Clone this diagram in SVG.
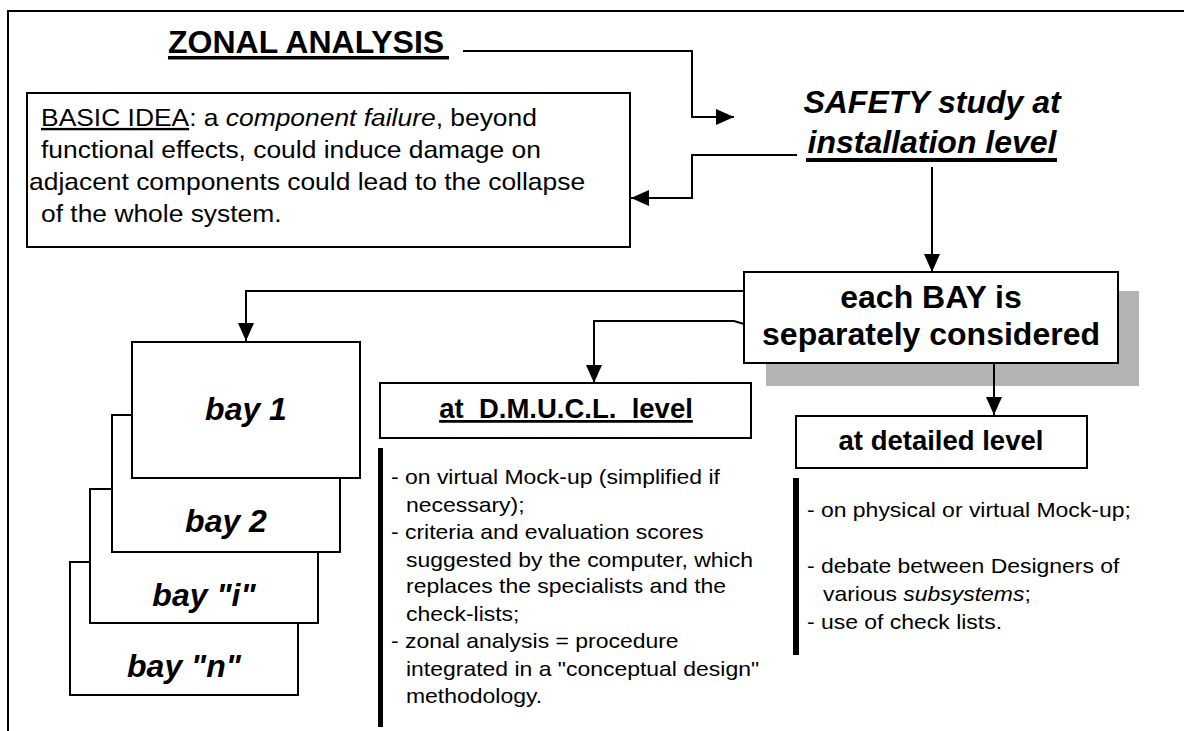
<svg xmlns="http://www.w3.org/2000/svg" width="1184" height="731" viewBox="0 0 1184 731">
  <style>
    text { font-family: "Liberation Sans", Arial, sans-serif; fill: #000; }
    .box { fill: #fff; stroke: #000; stroke-width: 2; }
    .wire { fill: none; stroke: #000; stroke-width: 2; }
    .head { font-size: 32px; font-weight: bold; }
    .bay { font-size: 32px; font-weight: bold; font-style: italic; text-anchor: middle; }
    .lvl { font-size: 27.5px; font-weight: bold; text-anchor: middle; }
    .body { font-size: 24px; }
    .note { font-size: 20.5px; }
    .bar, .rule { fill: #000; }
  </style>
  <defs>
    <marker id="arrow" markerUnits="userSpaceOnUse" markerWidth="18" markerHeight="16" refX="18" refY="8" orient="auto">
      <path d="M0,0 L18,8 L0,16 z" fill="#000"/>
    </marker>
  </defs>

  <!-- page frame -->
  <path d="M8,731 V11 H1184" fill="none" stroke="#000" stroke-width="2"/>

  <!-- title -->
  <g id="title">
    <text class="head" x="168" y="53">ZONAL ANALYSIS</text>
    <rect class="rule" x="168" y="56" width="281" height="3.5"/>
  </g>

  <!-- safety study -->
  <g id="safety">
    <text class="head" x="932" y="113" text-anchor="middle" font-style="italic">SAFETY study at</text>
    <text class="head" x="932" y="153" text-anchor="middle" font-style="italic">installation level</text>
    <rect class="rule" x="806" y="158" width="251" height="4"/>
  </g>

  <!-- basic idea -->
  <g id="basic-idea">
    <rect class="box" x="27" y="93" width="603" height="154"/>
    <g transform="scale(1.1,1)">
      <text class="body" x="37.3" y="126"><tspan text-decoration="underline">BASIC IDEA</tspan>: a <tspan font-style="italic">component failure</tspan>, beyond</text>
      <text class="body" x="37.3" y="158">functional effects, could induce damage on</text>
      <text class="body" x="26.4" y="190">adjacent components could lead to the collapse</text>
      <text class="body" x="37.3" y="222">of the whole system.</text>
    </g>
  </g>

  <!-- each bay -->
  <g id="each-bay">
    <rect x="766" y="291" width="373" height="95" fill="#b3b3b3"/>
    <rect class="box" x="744" y="272" width="374" height="91"/>
    <text class="head" x="931" y="308" text-anchor="middle">each BAY is</text>
    <text class="head" x="931" y="345" text-anchor="middle">separately considered</text>
  </g>

  <!-- bay stack, back to front -->
  <g id="bay-n">
    <rect class="box" x="70" y="562" width="228" height="133"/>
    <text class="bay" x="184" y="677">bay "n"</text>
  </g>
  <g id="bay-i">
    <rect class="box" x="90" y="489" width="228" height="134"/>
    <text class="bay" x="204" y="606">bay "i"</text>
  </g>
  <g id="bay-2">
    <rect class="box" x="112" y="415" width="228" height="137"/>
    <text class="bay" x="226" y="532">bay 2</text>
  </g>
  <g id="bay-1">
    <rect class="box" x="132" y="342" width="228" height="136"/>
    <text class="bay" x="246" y="420">bay 1</text>
  </g>

  <!-- D.M.U.C.L. level -->
  <g id="dmucl">
    <rect class="box" x="380" y="383" width="371" height="55"/>
    <text class="lvl" x="566" y="418" text-decoration="underline" xml:space="preserve">at  D.M.U.C.L.  level</text>
    <rect class="bar" x="378" y="448" width="5" height="279"/>
    <g transform="scale(1.12,1)">
      <text class="note" x="349.1" y="484">- on virtual Mock-up (simplified if</text>
      <text class="note" x="362.5" y="512">necessary);</text>
      <text class="note" x="349.1" y="539">- criteria and evaluation scores</text>
      <text class="note" x="362.5" y="567">suggested by the computer, which</text>
      <text class="note" x="362.5" y="593">replaces the specialists and the</text>
      <text class="note" x="362.5" y="621">check-lists;</text>
      <text class="note" x="349.1" y="648">- zonal analysis = procedure</text>
      <text class="note" x="362.5" y="676">integrated in a "conceptual design"</text>
      <text class="note" x="362.5" y="703">methodology.</text>
    </g>
  </g>

  <!-- detailed level -->
  <g id="detailed">
    <rect class="box" x="796" y="416" width="291" height="52"/>
    <text class="lvl" x="941" y="450">at detailed level</text>
    <rect class="bar" x="793" y="478" width="6" height="177"/>
    <g transform="scale(1.12,1)">
      <text class="note" x="720.5" y="517">- on physical or virtual Mock-up;</text>
      <text class="note" x="720.5" y="573">- debate between Designers of</text>
      <text class="note" x="734.8" y="601">various <tspan font-style="italic">subsystems</tspan>;</text>
      <text class="note" x="720.5" y="629">- use of check lists.</text>
    </g>
  </g>

  <!-- connectors -->
  <g id="connectors" class="wire">
    <path d="M463,51 H692 V117 H734" marker-end="url(#arrow)"/>
    <path d="M797,155 H692 V198 H631" marker-end="url(#arrow)"/>
    <path d="M932,167 V272" marker-end="url(#arrow)"/>
    <path d="M744,291 H246 V341" marker-end="url(#arrow)"/>
    <path d="M744,324 L734,321 H594 V383" marker-end="url(#arrow)"/>
    <path d="M994,363 V415" marker-end="url(#arrow)"/>
  </g>
</svg>
